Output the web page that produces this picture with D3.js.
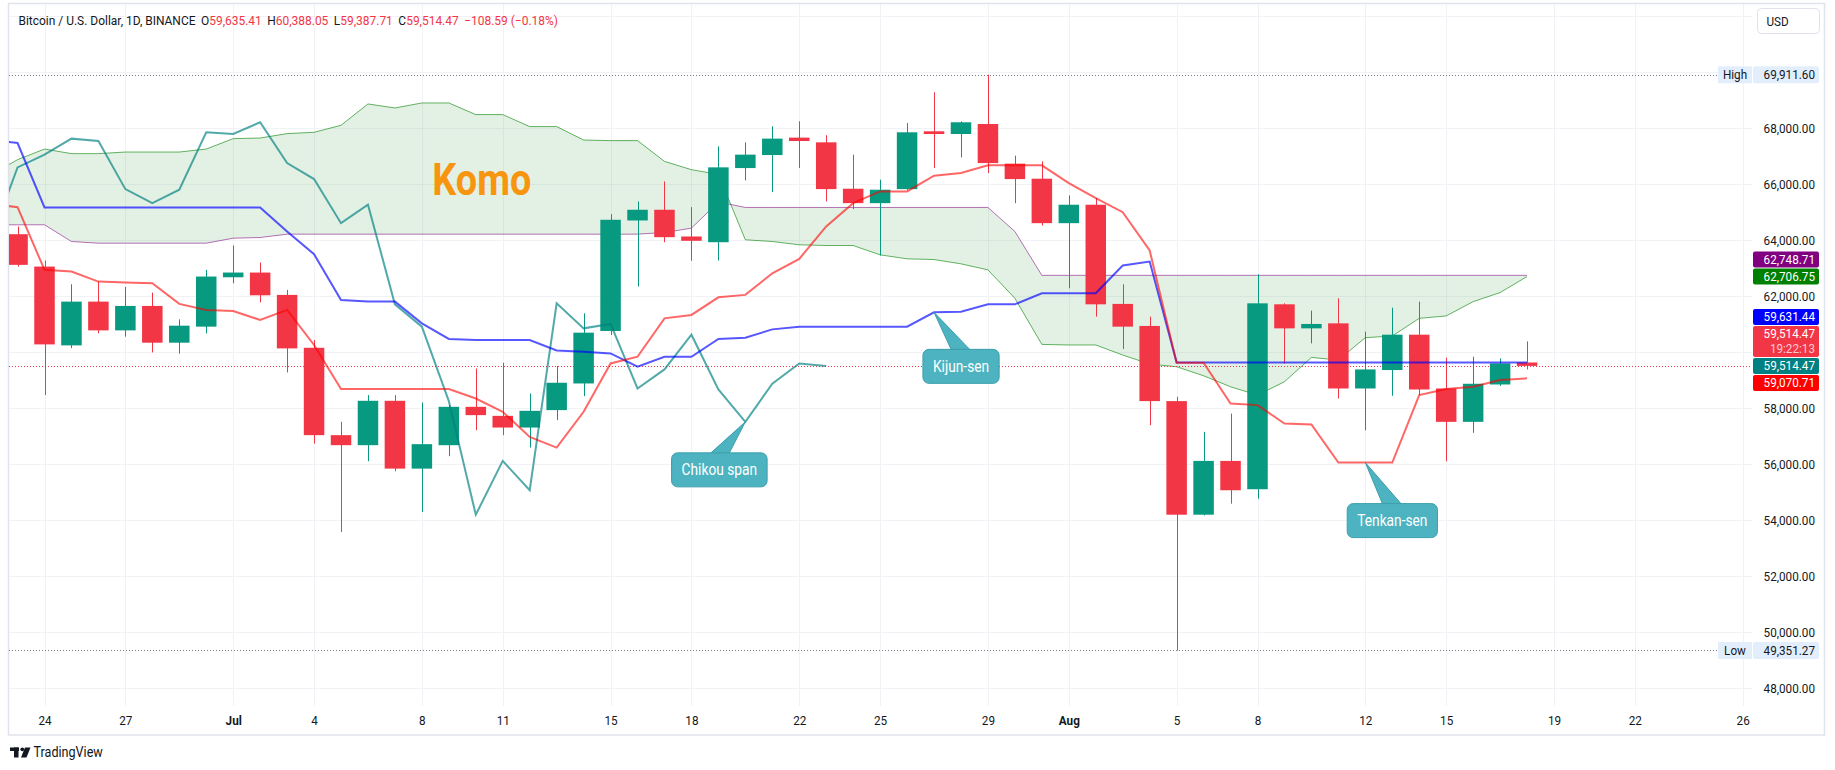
<!DOCTYPE html>
<html>
<head>
<meta charset="utf-8">
<script src="https://cdn.jsdelivr.net/npm/d3@7"></script>
<style>
  body { margin: 0; background: #fff; }
  text { font-family: Roboto, "Noto Sans", sans-serif; }
</style>
</head>
<body>
<script>
// ---- data ----
var parse = d3.timeParse("%Y-%m-%d");

// daily candles, 2024-06-23 .. 2024-08-18
var open  = [64218,63062,60247,61810,60783,61656,60343,60916,62680,62848,62050,60161,57041,56683,58268,55846,56683,58053,57730,57313,57935,58887,60762,64708,65091,64136,63932,66580,67045,67667,67499,65842,65327,65828,67893,67796,68154,66737,66200,64612,65270,61728,60941,58257,54200,56121,55109,61714,60855,61034,58708,59366,60629,58708,57516,58851,59635.41];
var high  = [64494,63277,62429,62526,62336,62132,61177,62944,63814,63205,62229,60440,57516,58472,58472,58207,58114,59424,59627,58529,59509,61392,64934,65388,66104,65184,67356,67499,68072,68250,67750,67059,66164,68190,69288,68250,69911.6,67023,66819,65603,65506,62429,61273,58411,57159,57813,62787,61749,61488,61928,60737,61595,61810,59806,59842,59781,60388.05];
var low   = [63062,58472,60150,60676,60558,59996,59950,60676,62465,61785,59280,56740,53581,56110,55752,54296,56289,57219,57041,56597,57577,58436,60619,62347,63932,63266,63277,66139,65721,66580,65388,65113,63456,65800,66580,66962,66401,65327,64529,62286,61273,60118,57398,49351.27,54178,54594,54772,59603,60318,58350,57214,58447,58472,56110,57123,58800,59387.71];
var close = [63123,60282,61810,60783,61656,60343,60951,62705,62848,62036,60139,57041,56683,58268,55846,56719,58053,57756,57313,57910,58912,60701,64733,65091,64111,63982,66605,67059,67631,67546,65828,65327,65807,67857,67796,68215,66758,66186,64612,65270,61714,60916,58257,54200,56121,55073,61749,60855,61012,58708,59388,60629,58672,57516,58876,59603,59514.47];

// ichimoku lines, 2024-06-22 .. 2024-08-18
var tenkan = [65300,65184,62944,62883,62526,62490,62466,61728,61513,61477,61155,61513,60261,58687,58687,58687,58687,58687,58350,57874,56980,56597,57874,59603,59842,61213,61334,61964,62050,62823,63338,64494,65327,65746,65746,66308,66401,66676,66676,66676,66043,65506,65005,63635,59631,59631,58172,58114,57456,57420,56060,56060,56060,58472,58687,58769,59008,59070.71];
var kijun  = [67600,67474,65173,65173,65173,65173,65173,65173,65173,65173,65173,64315,63503,61871,61810,61810,61034,60476,60440,60440,60440,60068,60021,59960,59484,59842,59842,60476,60522,60819,60916,60916,60916,60916,60916,61427,61452,61714,61714,62109,62109,62109,63098,63241,59631.44,59631.44,59631.44,59631.44,59631.44,59631.44,59631.44,59631.44,59631.44,59631.44,59631.44,59631.44,59631.44,59631.44];
var senkouA = [66336,66880,67259,67095,67095,67152,67152,67152,67259,67631,67653,67810,67857,68107,68869,68726,68905,68905,68490,68490,68061,68061,67581,67560,67560,66819,66522,66354,64018,63957,63839,63814,63814,63481,63338,63313,63159,62944,61929,60282,60261,60261,59902,59580,59484,59162,58769,58472,58948,59817,59724,60522,60583,61213,61298,61810,62132,62706.75];
var senkouB = [64554,64554,64554,63957,63897,63897,63897,63897,63897,64075,64100,64219,64219,64219,64219,64219,64219,64219,64219,64219,64219,64219,64219,64219,64219,64279,64433,65370,65173,65173,65173,65173,65173,65173,65173,65173,65173,65173,64315,62748.71,62748.71,62748.71,62748.71,62748.71,62748.71,62748.71,62748.71,62748.71,62748.71,62748.71,62748.71,62748.71,62748.71,62748.71,62748.71,62748.71,62748.71,62748.71];
// lagging span, 2024-06-22 .. 2024-07-23
var chikou = [63982,66605,67059,67631,67546,65828,65327,65807,67857,67796,68215,66758,66186,64612,65270,61714,60916,58257,54200,56121,55073,61749,60855,61012,58708,59388,60629,58672,57516,58876,59603,59514.47];

var tickDates = ["2024-06-24","2024-06-27","2024-07-01","2024-07-04","2024-07-08","2024-07-11","2024-07-15","2024-07-18","2024-07-22","2024-07-25","2024-07-29","2024-08-01","2024-08-05","2024-08-08","2024-08-12","2024-08-15","2024-08-19","2024-08-22","2024-08-26"];
var priceTicks = [48000,50000,52000,54000,56000,58000,62000,64000,66000,68000];
var gridPrices = [48000,50000,52000,54000,56000,58000,60000,62000,64000,66000,68000,70000,72000];

var dayHigh = 69911.6, dayLow = 49351.27;
var lastPrice = 59514.47, countdown = "19:22:13";
var ohlcHeader = {o:"59,635.41", h:"60,388.05", l:"59,387.71", c:"59,514.47", chg:"\u2212108.59 (\u22120.18%)"};

var notes = [
  {text:"Chikou span", series:"chikou", date:"2024-07-20", dx:-26, dy:31},
  {text:"Kijun-sen",   series:"kijun",  date:"2024-07-27", dx:27,  dy:37},
  {text:"Tenkan-sen",  series:"tenkan", date:"2024-08-12", dx:27,  dy:41}
];

// ---- layout ----
var W = 1835, H = 770;
var SX = 0.9;   // the picture's text is a bit narrow
var green = "#089981", red = "#f23645", ink = "#131722";

var candleDays = d3.timeDay.range(parse("2024-06-23"), parse("2024-08-19"));
var lineDays   = d3.timeDay.range(parse("2024-06-22"), parse("2024-08-19"));
var chikouDays = d3.timeDay.range(parse("2024-06-22"), parse("2024-07-24"));

var x = d3.scaleTime().domain([parse("2024-06-24"), parse("2024-08-26")]).range([44.5, 1742.7]);
var y = d3.scaleLinear().domain([48000, 68000]).range([688.3, 128.3]);

var svg = d3.select("body").append("svg").attr("width", W).attr("height", H);

svg.append("defs").append("clipPath").attr("id", "plot")
  .append("rect").attr("x", 9).attr("y", 4).attr("width", 1743).attr("height", 702);

// frame
svg.append("rect").attr("x", 8.5).attr("y", 3.5).attr("width", 1816).attr("height", 731.5)
  .attr("fill", "none").attr("stroke", "#e0e3eb").attr("stroke-width", 1.5);

// grid
var grid = svg.append("g").attr("stroke", "#f0f2f6").attr("stroke-width", 1);
grid.selectAll(".v").data(tickDates.map(parse)).enter().append("line")
  .attr("x1", d => Math.round(x(d)) + 0.5).attr("x2", d => Math.round(x(d)) + 0.5)
  .attr("y1", 4).attr("y2", 706);
grid.selectAll(".h").data(gridPrices).enter().append("line")
  .attr("x1", 9).attr("x2", 1752)
  .attr("y1", d => Math.round(y(d)) + 0.5).attr("y2", d => Math.round(y(d)) + 0.5);

var plot = svg.append("g").attr("clip-path", "url(#plot)");

// cloud
var cloud = lineDays.map((d, i) => ({date: d, a: senkouA[i], b: senkouB[i]}));
plot.append("path").datum(cloud)
  .attr("fill", "rgba(67,160,71,0.15)")
  .attr("d", d3.area().x(d => x(d.date)).y0(d => y(d.a)).y1(d => y(d.b)));

function series(vals, days) { return days.map((d, i) => ({date: d, v: vals[i]})); }
var line = d3.line().x(d => x(d.date)).y(d => y(d.v));

plot.append("path").datum(series(senkouA, lineDays)).attr("fill", "none")
  .attr("stroke", "rgba(0,128,0,0.6)").attr("stroke-width", 1).attr("d", line);
plot.append("path").datum(series(senkouB, lineDays)).attr("fill", "none")
  .attr("stroke", "rgba(128,0,128,0.55)").attr("stroke-width", 1).attr("d", line);

// dotted high / low / last price lines
plot.append("line").attr("x1", 9).attr("x2", 1718)
  .attr("y1", Math.round(y(dayHigh)) + 0.5).attr("y2", Math.round(y(dayHigh)) + 0.5)
  .attr("stroke", "#787b86").attr("stroke-dasharray", "1,2");
plot.append("line").attr("x1", 9).attr("x2", 1718)
  .attr("y1", Math.round(y(dayLow)) + 0.5).attr("y2", Math.round(y(dayLow)) + 0.5)
  .attr("stroke", "#787b86").attr("stroke-dasharray", "1,2");
plot.append("line").attr("x1", 9).attr("x2", 1752)
  .attr("y1", Math.round(y(lastPrice)) + 0.5).attr("y2", Math.round(y(lastPrice)) + 0.5)
  .attr("stroke", red).attr("stroke-dasharray", "1,2");

// candles
var candles = candleDays.map((d, i) => ({date: d, o: open[i], h: high[i], l: low[i], c: close[i]}));
var bw = 20.5;
var cg = plot.selectAll(".candle").data(candles).enter().append("g");
cg.append("line")
  .attr("x1", d => Math.round(x(d.date)) + 0.5).attr("x2", d => Math.round(x(d.date)) + 0.5)
  .attr("y1", d => y(d.h)).attr("y2", d => y(d.l))
  .attr("stroke", d => d.c >= d.o ? green : red).attr("stroke-width", 1);
cg.append("rect")
  .attr("x", d => x(d.date) - bw / 2).attr("width", bw)
  .attr("y", d => y(Math.max(d.o, d.c)))
  .attr("height", d => Math.max(1, Math.abs(y(d.o) - y(d.c))))
  .attr("fill", d => d.c >= d.o ? green : red);

// main ichimoku lines
plot.append("path").datum(series(chikou, chikouDays)).attr("fill", "none")
  .attr("stroke", "rgba(0,128,128,0.68)").attr("stroke-width", 2).attr("d", line);
plot.append("path").datum(series(kijun, lineDays)).attr("fill", "none")
  .attr("stroke", "rgba(0,0,255,0.66)").attr("stroke-width", 2).attr("d", line);
plot.append("path").datum(series(tenkan, lineDays)).attr("fill", "none")
  .attr("stroke", "rgba(255,0,0,0.6)").attr("stroke-width", 2).attr("d", line);

// squeezed text helper
function label(g, px, py, str, opts) {
  opts = opts || {};
  var t = g.append("g").attr("transform", "translate(" + px + "," + py + ") scale(" + (opts.sx || SX) + ",1)")
    .append("text")
    .attr("text-anchor", opts.anchor || "start")
    .attr("dy", opts.dy || "0.35em")
    .attr("font-size", opts.size || 13)
    .attr("font-weight", opts.weight || 400)
    .attr("fill", opts.fill || ink)
    .text(str);
  if (opts.opacity) t.attr("fill-opacity", opts.opacity);
  return t;
}

// Komo
label(svg, x(parse("2024-07-10")) + 6, y(66180), "Komo",
  {anchor: "middle", dy: 0, size: 44, weight: 700, fill: "#f7950f", sx: 0.86});

// callouts
var seriesMap = {chikou: [chikou, chikouDays], kijun: [kijun, lineDays], tenkan: [tenkan, lineDays]};
notes.forEach(function(n) {
  var s = seriesMap[n.series];
  var dt = parse(n.date);
  var idx = s[1].findIndex(d => +d === +dt);
  var tx = x(dt), ty = y(s[0][idx]);
  var g = svg.append("g");
  var cx = tx + n.dx, top = ty + n.dy, h = 34;
  var txt = label(g, cx, top + h / 2, n.text, {anchor: "middle", size: 16, fill: "#fff", sx: 0.86});
  var tw = txt.node().getComputedTextLength() * 0.86 + 20;
  g.insert("path", ":first-child")
    .attr("d", "M" + (cx - 9.5) + "," + (top + 1) + " L" + tx + "," + ty + " L" + (cx + 9.5) + "," + (top + 1) + " Z")
    .attr("fill", "#4db3c0").attr("stroke", "#3a9fab").attr("stroke-width", 1);
  g.insert("rect", ":nth-child(2)")
    .attr("x", cx - tw / 2).attr("y", top).attr("width", tw).attr("height", h)
    .attr("rx", 6).attr("fill", "#4db3c0").attr("stroke", "#3a9fab").attr("stroke-width", 1);
});

// time axis
var tickFmt = d => d.getDate() === 1 ? d3.timeFormat("%b")(d) : d3.timeFormat("%-d")(d);
var xa = svg.append("g").attr("transform", "translate(0,706)")
  .call(d3.axisBottom(x).tickValues(tickDates.map(parse)).tickFormat(tickFmt).tickSize(0).tickPadding(10));
xa.select(".domain").remove();
xa.selectAll("text").attr("font-size", 13).attr("fill", ink).attr("font-family", "Roboto, sans-serif")
  .attr("font-weight", d => d.getDate() === 1 ? 700 : 400)
  .attr("transform", "scale(" + SX + ",1)");

// price axis
var ya = svg.append("g").attr("transform", "translate(1815,0)")
  .call(d3.axisRight(y).tickValues(priceTicks).tickFormat(d3.format(",.2f")).tickSize(0).tickPadding(0));
ya.select(".domain").remove();
ya.selectAll("text").attr("font-size", 13).attr("fill", ink).attr("font-family", "Roboto, sans-serif")
  .attr("text-anchor", "end").attr("transform", "scale(" + SX + ",1)");

// price scale labels
var fmt = d3.format(",.2f");
function tag(top, hgt, fill, lines, color) {
  svg.append("rect").attr("x", 1753).attr("y", top).attr("width", 66).attr("height", hgt).attr("rx", 2).attr("fill", fill);
  lines.forEach(function(s, i) {
    label(svg, 1815, top + 8 + i * 15, s, {anchor: "end", fill: color || "#fff", opacity: i > 0 ? 0.75 : null});
  });
}
function hiLo(v, name) {
  var c = y(v);
  svg.append("rect").attr("x", 1718).attr("y", c - 8.5).attr("width", 34).attr("height", 17).attr("fill", "#e3eefc");
  label(svg, 1735, c, name, {anchor: "middle"});
  tag(c - 8.5, 17, "#e3eefc", [fmt(v)], ink);
}
hiLo(dayHigh, "High");
hiLo(dayLow, "Low");

var bh = 16, gap = 1;
var gTop = y(senkouA[senkouA.length - 1]) - bh / 2;
tag(gTop, bh, "#008000", [fmt(senkouA[senkouA.length - 1])]);
tag(gTop - gap - bh, bh, "#800080", [fmt(senkouB[senkouB.length - 1])]);
var tTop = y(chikou[chikou.length - 1]) - bh / 2;
tag(tTop, bh, "#008080", [fmt(chikou[chikou.length - 1])]);
tag(tTop + bh + gap, bh, "#ff0000", [fmt(tenkan[tenkan.length - 1])]);
var pTop = tTop - gap - 31;
tag(pTop, 31, red, [fmt(lastPrice), countdown]);
tag(pTop - gap - bh, bh, "#0000ff", [fmt(kijun[kijun.length - 1])]);

// header
var hg = svg.append("g").attr("transform", "translate(18.5,20) scale(0.92,1)");
var ht = hg.append("text").attr("dy", "0.35em").attr("font-size", 13).attr("fill", ink);
ht.append("tspan").text("Bitcoin / U.S. Dollar, 1D, BINANCE");
[["O", ohlcHeader.o], ["H", ohlcHeader.h], ["L", ohlcHeader.l], ["C", ohlcHeader.c]].forEach(function(p) {
  ht.append("tspan").attr("dx", 6).text(p[0]);
  ht.append("tspan").attr("fill", red).text(p[1]);
});
ht.append("tspan").attr("dx", 6).attr("fill", red).text(ohlcHeader.chg);

// currency button
svg.append("rect").attr("x", 1757.5).attr("y", 8.5).attr("width", 62).attr("height", 25).attr("rx", 4)
  .attr("fill", "#fff").attr("stroke", "#e0e3eb");
label(svg, 1766.5, 21.5, "USD", {size: 13});

// TradingView mark
var logo = svg.append("g").attr("fill", ink);
logo.append("rect").attr("x", 10).attr("y", 747.5).attr("width", 9).attr("height", 3.5);
logo.append("rect").attr("x", 14).attr("y", 747.5).attr("width", 4.5).attr("height", 10);
logo.append("circle").attr("cx", 22.3).attr("cy", 749.3).attr("r", 1.9);
logo.append("path").attr("d", "M25,747.5 L30.5,747.5 L26.5,757.5 L21,757.5 Z");
label(svg, 33.5, 752.5, "TradingView", {size: 14});
</script>
</body>
</html>
